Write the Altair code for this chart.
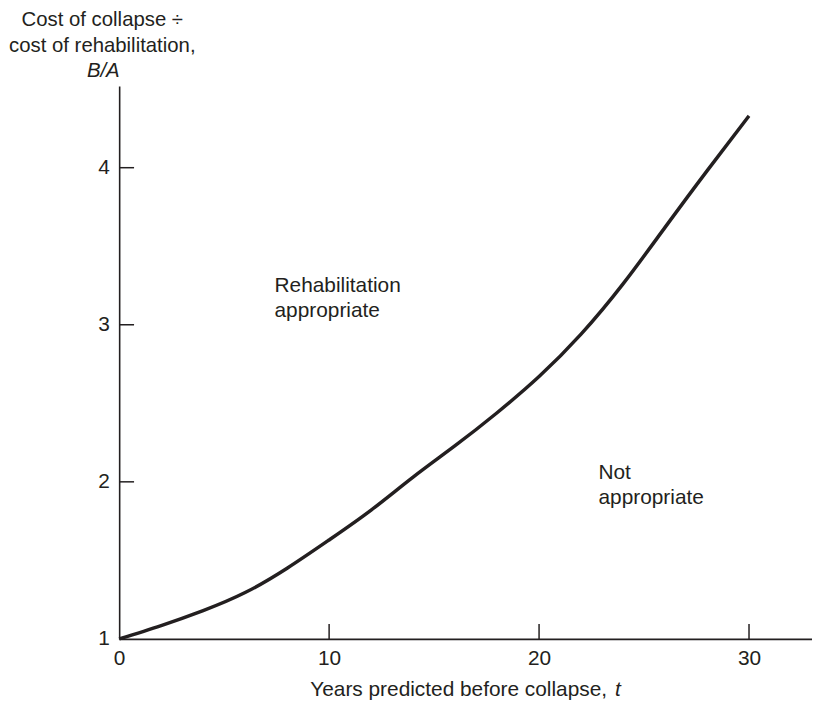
import altair as alt
import pandas as pd

# ---- data ----
years = [0, 2, 4, 6, 8, 10, 12, 14, 16, 18, 20, 22, 24, 26, 28, 30]
ratio = [1.00, 1.085, 1.18, 1.295, 1.45, 1.63, 1.82, 2.03, 2.23, 2.44, 2.67, 2.94, 3.26, 3.62, 3.98, 4.33]

x_tick_values = [0, 10, 20, 30]
y_tick_values = [1, 2, 3, 4]
x_inner_ticks = [10, 20, 30]
y_inner_ticks = [2, 3, 4]

region_text = ["Rehabilitation", "appropriate", "Not", "appropriate"]
region_x = [7.4, 7.4, 22.83, 22.83]
region_y = [3.208, 3.048, 2.018, 1.86]

INK = "#231f20"
FONT = "Liberation Sans"
W, H = 698, 557

curve = pd.DataFrame({"x": years, "y": ratio})
xt = pd.DataFrame({"x": x_inner_ticks})
yt = pd.DataFrame({"y": y_inner_ticks})
regions = pd.DataFrame({"x": region_x, "y": region_y, "label": region_text})

xscale = alt.Scale(domain=[0, 33], nice=False, zero=False)
yscale = alt.Scale(domain=[1, 4.52], nice=False, zero=False)

xaxis = alt.Axis(values=x_tick_values, ticks=False, grid=False, title=None,
                 labelFontSize=21, labelPadding=9, labelColor=INK, labelFont=FONT,
                 domainColor=INK, domainWidth=1.6, labelFlush=False)
yaxis = alt.Axis(values=y_tick_values, ticks=False, grid=False, title=None,
                 labelFontSize=21, labelPadding=10, labelColor=INK, labelFont=FONT,
                 domainColor=INK, domainWidth=1.6, labelFlush=False)

X = lambda: alt.X("x:Q", scale=xscale, axis=xaxis)
Y = lambda: alt.Y("y:Q", scale=yscale, axis=yaxis)

line = alt.Chart(curve).mark_line(color=INK, strokeWidth=3.5, interpolate="natural").encode(
    x=X(), y=Y(),
)

xticks = alt.Chart(xt).mark_rule(color=INK, strokeWidth=1.5).encode(
    x=X(),
    y=alt.value(H),
    y2=alt.value(H - 15),
)

yticks = alt.Chart(yt).mark_rule(color=INK, strokeWidth=1.5).encode(
    y=Y(),
    x=alt.value(0),
    x2=alt.value(15),
)

labels = alt.Chart(regions).mark_text(
    align="left", baseline="alphabetic", fontSize=21, font=FONT, color=INK
).encode(
    x=X(), y=Y(),
    text="label:N",
)

dummy = alt.Data(values=[{"a": 1}])


def title_text(txt, px, py, align, italic=False, size=21):
    kw = dict(align=align, baseline="alphabetic", fontSize=size, font=FONT, color=INK, text=txt)
    if italic:
        kw["fontStyle"] = "italic"
    return alt.Chart(dummy).mark_text(**kw).encode(x=alt.value(px), y=alt.value(py))


titles = [
    title_text("Cost of collapse ÷", -17, -60, "center", size=20.5),
    title_text("cost of rehabilitation,", -17, -34.5, "center", size=20.5),
    title_text("B/A", -16, -9, "center", italic=True, size=20.5),
    title_text("Years predicted before collapse,", 192.5, 615, "left"),
    title_text("t", 499.5, 615, "left", italic=True),
]

chart = alt.layer(line, xticks, yticks, labels, *titles).properties(
    width=W, height=H,
    autosize=alt.AutoSizeParams(type="none"),
    padding={"left": 112, "top": 76, "right": 0, "bottom": 66},
).configure_view(stroke=None)

chart.save("out.html", embed_options={"renderer": "svg", "actions": False})
